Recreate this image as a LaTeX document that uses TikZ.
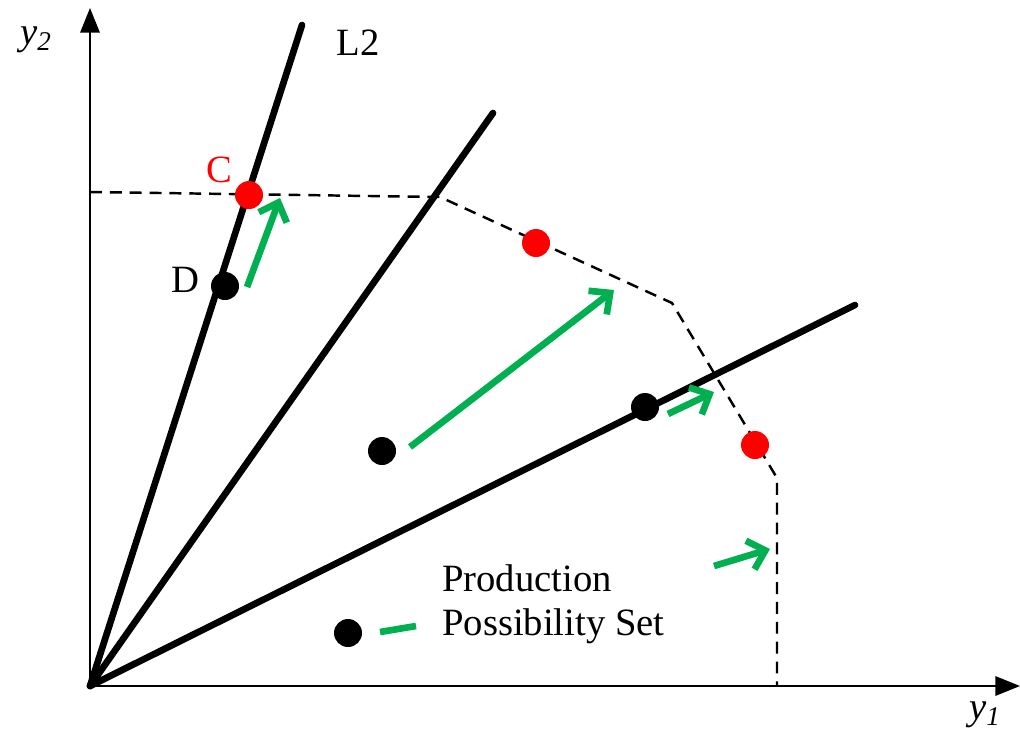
\documentclass[tikz,border=0pt]{standalone}
\usepackage{fontspec}
\setmainfont{Liberation Serif}
\usetikzlibrary{arrows.meta}
\definecolor{grn}{RGB}{0,176,80}
\definecolor{rd}{RGB}{255,0,0}
\begin{document}
\begin{tikzpicture}[x=0.02cm,y=-0.02cm,
  axis/.style={line width=1.2pt,-{Triangle[length=14pt,width=11pt]}},
  ray/.style={line width=3.8pt,line cap=round},
  front/.style={line width=1.4pt,dash pattern=on 6.8pt off 4.5pt},
  gar/.style={line width=3.8pt,draw=grn,-{Straight Barb[length=9pt,width=17pt,line width=3.8pt]}},
  dotb/.style={circle,fill=black,inner sep=0pt,minimum size=0.56cm},
  dotr/.style={circle,fill=rd,inner sep=0pt,minimum size=0.56cm},
  lbl/.style={font=\fontsize{22}{26}\selectfont},
]
\useasboundingbox (0,0) rectangle (1020,731);
\coordinate (O) at (90,686);
\coordinate (Ytop) at (90,8);
\coordinate (Xend) at (1020,686);
\draw[axis] (O) -- (Ytop);
\draw[axis] (O) -- (Xend);
% rays
\coordinate (L2e) at (302,25);
\coordinate (Mide) at (493,113);
\coordinate (Lowe) at (855,305);
\draw[ray] (O) -- (L2e);
\draw[ray] (O) -- (Mide);
\draw[ray] (O) -- (Lowe);
% frontier
\coordinate (F1) at (90,192);
\coordinate (F2) at (440,197);
\coordinate (F3) at (672,303);
\coordinate (F4) at (777,478);
\coordinate (F5) at (777,686);
\draw[front] (F1) -- (F2) -- (F3) -- (F4) -- (F5);
% dots
\node[dotr] (C) at (249,195) {};
\node[dotr] (R2) at (536,243) {};
\node[dotr] (R3) at (755,445) {};
\node[dotb] (D) at (225,286) {};
\node[dotb] (B2) at (645,407) {};
\node[dotb] (B3) at (382,451) {};
\node[dotb] (B4) at (348,633) {};
% green arrows
\coordinate (a1s) at (247,287); \coordinate (a1e) at (280,198);
\coordinate (a2s) at (410,447); \coordinate (a2e) at (614,290);
\coordinate (a3s) at (668,414); \coordinate (a3e) at (714,392);
\coordinate (a4s) at (714,566); \coordinate (a4e) at (770,549);
\coordinate (a5s) at (380,632); \coordinate (a5e) at (416,626);
\draw[gar] (a1s) -- (a1e);
\draw[gar] (a2s) -- (a2e);
\draw[gar] (a3s) -- (a3e);
\draw[gar] (a4s) -- (a4e);
\draw[line width=3.8pt,draw=grn] (a5s) -- (a5e);
% labels
\node[lbl,font=\fontsize{22}{26}\selectfont\itshape] (y2) at (36,40) {y\textsubscript{2}};
\node[lbl,font=\fontsize{22}{26}\selectfont\itshape] (y1) at (985,715) {y\textsubscript{1}};
\node[lbl] (L2) at (358,43) {L2};
\node[lbl,text=rd] (Cl) at (219,170) {C};
\node[lbl] (Dl) at (185,280) {D};
\node[lbl,anchor=west,align=left,font=\fontsize{22}{25}\selectfont] (leg) at (436,604) {Production\\Possibility Set};
\end{tikzpicture}
\end{document}
